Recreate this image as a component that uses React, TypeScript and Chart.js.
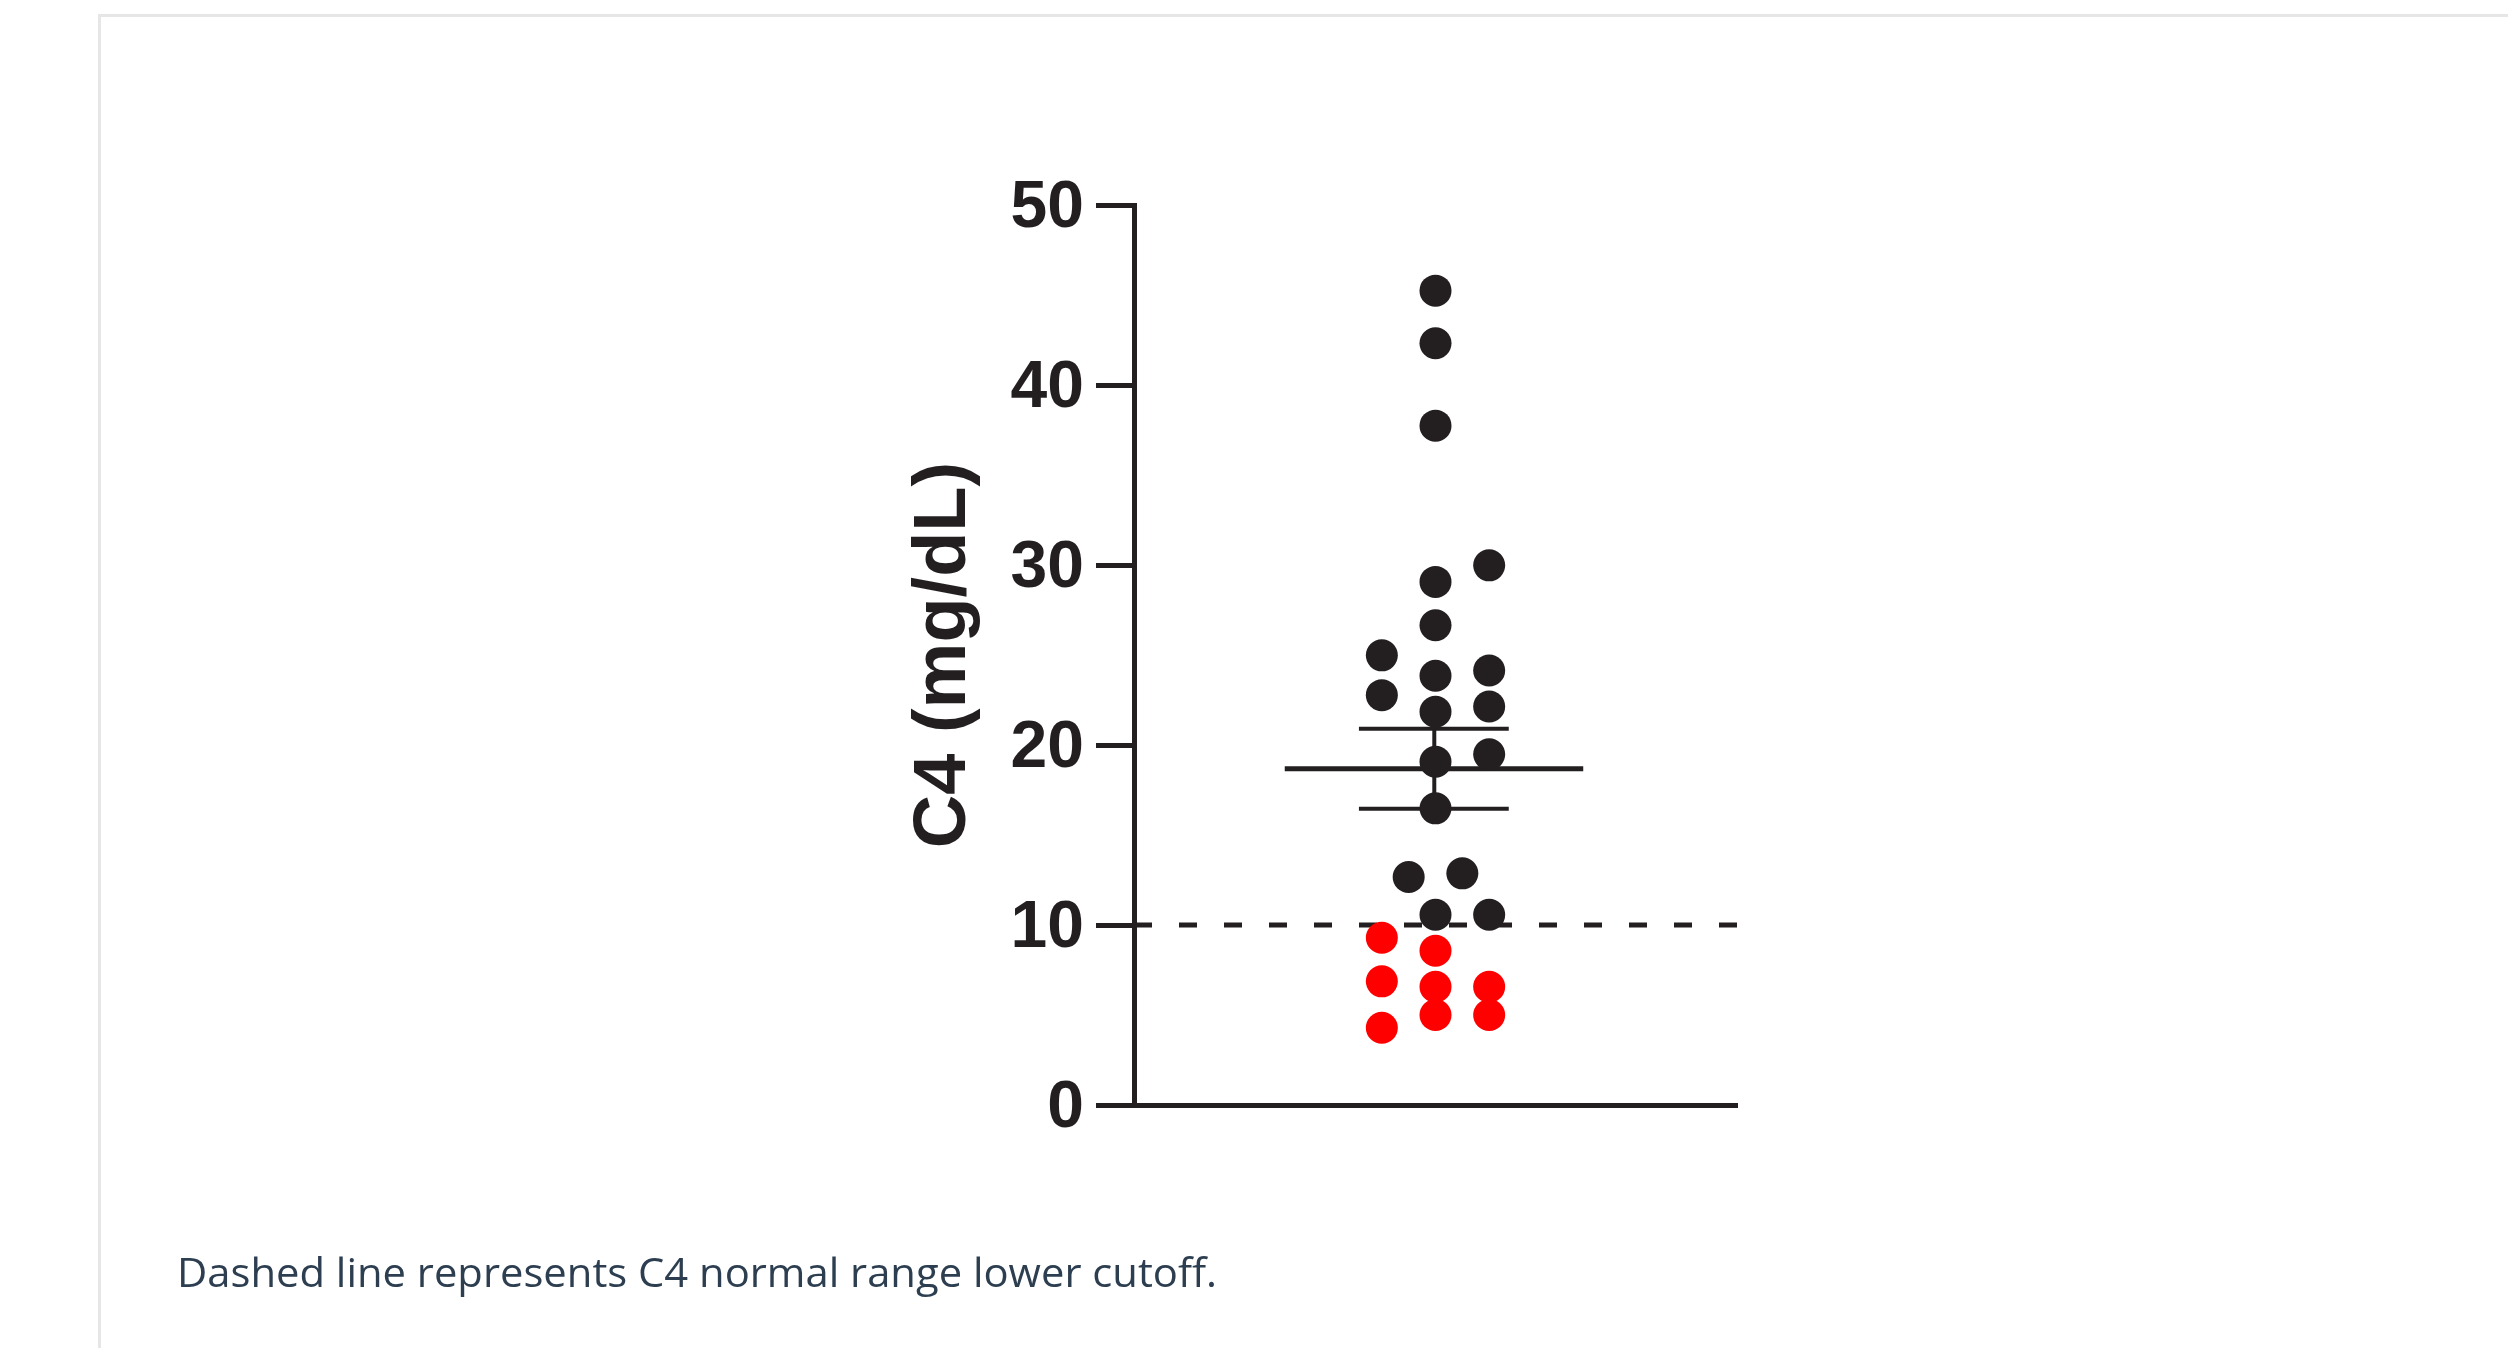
import React, { useEffect, useRef } from "react";
import { Chart, registerables } from "chart.js";

Chart.register(...registerables);

// ---- data ----
const yTickValues = [0, 10, 20, 30, 40, 50];
const yAxisTitle = "C4 (mg/dL)";
const captionText = "Dashed line represents C4 normal range lower cutoff.";
const cutoffValue = 10;
const meanValue = 18.68;
const semValue = 2.22;

// patients at or above the cutoff (black)
const aboveX = [1, 1, 1, 1.178, 1, 1, 0.822, 1, 1.178, 0.822, 1, 1.178, 1, 1.178, 1, 0.911, 1.089, 1, 1.178];
const aboveY = [45.24, 42.32, 37.74, 29.98, 29.06, 26.65, 24.98, 23.85, 24.14, 22.77, 21.85, 22.14, 19.07, 19.48, 16.48, 12.67, 12.87, 10.57, 10.57];

// patients below the cutoff (red)
const belowX = [0.822, 1, 0.822, 1, 1.178, 1, 1.178, 0.822];
const belowY = [9.29, 8.57, 6.87, 6.57, 6.57, 5.0, 5.0, 4.29];

const INK = "#231f20";
const RED = "#ff0000";

export default function App() {
  const canvasRef = useRef<HTMLCanvasElement>(null);
  const capRef = useRef<HTMLSpanElement>(null);

  useEffect(() => {
    const canvas = canvasRef.current!;
    const toPts = (xs: number[], ys: number[]) => xs.map((x, i) => ({ x, y: ys[i] }));

    const lineDs = (data: { x: number; y: number }[], width: number, dash: number[] = []) => ({
      type: "scatter" as const,
      data,
      showLine: true,
      borderColor: INK,
      backgroundColor: INK,
      borderWidth: width,
      borderDash: dash,
      borderCapStyle: "butt" as const,
      pointRadius: 0,
      pointHoverRadius: 0,
    });

    const chart = new Chart(canvas, {
      type: "scatter",
      data: {
        datasets: [
          {
            data: toPts(aboveX, aboveY),
            backgroundColor: INK,
            borderWidth: 0,
            pointRadius: 16,
            pointHoverRadius: 16,
          },
          {
            data: toPts(belowX, belowY),
            backgroundColor: RED,
            borderWidth: 0,
            pointRadius: 16,
            pointHoverRadius: 16,
          },
          lineDs([{ x: 0.5, y: meanValue }, { x: 1.49, y: meanValue }], 5),
          lineDs([{ x: 0.746, y: meanValue + semValue }, { x: 1.243, y: meanValue + semValue }], 4),
          lineDs([{ x: 0.746, y: meanValue - semValue }, { x: 1.243, y: meanValue - semValue }], 4),
          lineDs([{ x: 0.996, y: meanValue - semValue }, { x: 0.996, y: meanValue + semValue }], 4),
          lineDs([{ x: 0, y: cutoffValue }, { x: 2, y: cutoffValue }], 5, [18, 27]),
        ] as any,
      },
      options: {
        animation: false,
        responsive: false,
        devicePixelRatio: 1,
        events: [],
        layout: { padding: { left: 0, top: 205, right: 771, bottom: 243 } },
        plugins: { legend: { display: false }, tooltip: { enabled: false } },
        scales: {
          x: {
            type: "linear",
            min: 0,
            max: 2,
            grid: { display: false, drawTicks: false, tickLength: 0 },
            ticks: { display: false },
            border: { display: true, width: 5, color: INK },
          },
          y: {
            type: "linear",
            min: 0,
            max: 50,
            afterBuildTicks: (s: any) => {
              s.ticks = yTickValues.map((v) => ({ value: v }));
            },
            afterFit: (s: any) => {
              s.width = 1134;
            },
            ticks: {
              color: INK,
              padding: 12,
              labelOffset: 4,
              font: { family: "'Liberation Sans', Arial, sans-serif", weight: "bold", size: 66 },
            },
            grid: {
              drawOnChartArea: false,
              drawTicks: true,
              tickLength: 38,
              lineWidth: 5,
              color: INK,
            },
            border: { display: true, width: 5, color: INK },
            title: {
              display: true,
              text: yAxisTitle,
              color: INK,
              font: { family: "'Liberation Sans', Arial, sans-serif", weight: "bold", size: 74, lineHeight: 1.2 },
              padding: { top: 900, bottom: 0 },
            },
          },
        },
      } as any,
    });

    const cap = capRef.current;
    if (cap) {
      cap.style.transform = "none";
      const w = cap.getBoundingClientRect().width;
      if (w > 0) cap.style.transform = `scaleX(${1040 / w})`;
    }

    return () => chart.destroy();
  }, []);

  return (
    <div>
      <div
        style={{
          position: "fixed",
          left: 98,
          top: 14,
          width: 2508,
          height: 1400,
          borderTop: "3px solid #e6e6e6",
          borderLeft: "3px solid #e6e6e6",
          boxSizing: "border-box",
        }}
      />
      <canvas
        ref={canvasRef}
        width={2508}
        height={1348}
        style={{ position: "fixed", left: 0, top: 0, width: 2508, height: 1348 }}
      />
      <span
        ref={capRef}
        style={{
          position: "fixed",
          left: 177,
          top: 1251,
          display: "inline-block",
          whiteSpace: "nowrap",
          fontFamily: "'Open Sans', sans-serif",
          fontSize: 41,
          lineHeight: 1,
          color: "#2c3e50",
          transformOrigin: "left top",
        }}
      >
        {captionText}
      </span>
    </div>
  );
}
